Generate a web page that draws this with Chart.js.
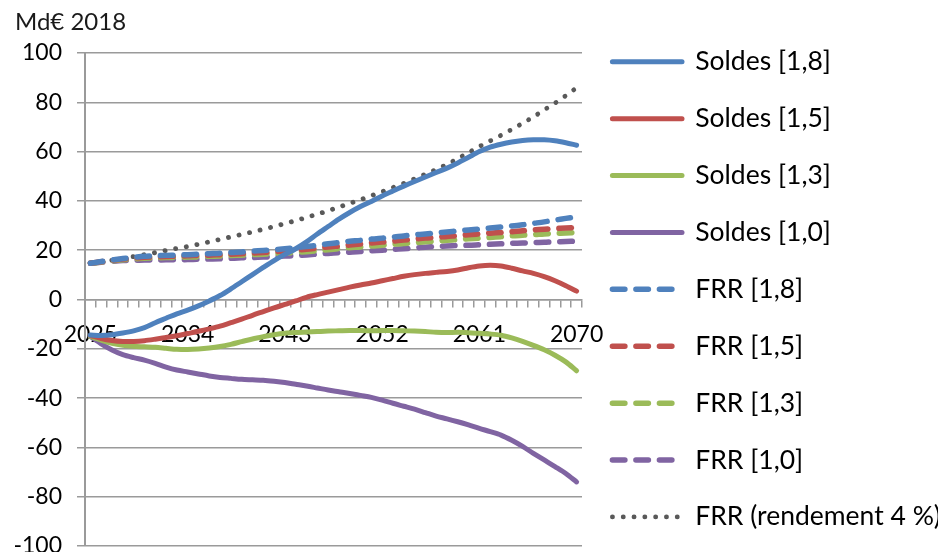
<!DOCTYPE html>
<html>
<head>
<meta charset="utf-8">
<script src="https://cdn.jsdelivr.net/npm/chart.js@4.4.1/dist/chart.umd.min.js"></script>
<style>
  body { margin: 0; background: #fff; }
  canvas { display: block; }
</style>
</head>
<body>
<canvas id="myChart" width="938" height="552"></canvas>
<script>
// années 2025 -> 2070
const years = ['2025','2026','2027','2028','2029','2030','2031','2032','2033','2034',
  '2035','2036','2037','2038','2039','2040','2041','2042','2043','2044',
  '2045','2046','2047','2048','2049','2050','2051','2052','2053','2054',
  '2055','2056','2057','2058','2059','2060','2061','2062','2063','2064',
  '2065','2066','2067','2068','2069','2070']

const soldes18 = [-14.4,-14.6,-14.3,-13.6,-12.7,-11.4,-9.4,-7.6,-5.8,-4.3,
  -2.6,-0.6,1.6,4.3,7.2,10.1,13.0,15.8,18.3,20.6,
  23.4,26.6,29.6,32.6,35.3,37.7,39.8,42.0,44.0,46.0,
  47.9,49.7,51.5,53.3,55.4,57.7,60.0,61.8,63.0,63.9,
  64.5,64.8,64.8,64.4,63.6,62.6]
const soldes15 = [-14.6,-15.8,-16.6,-17.0,-17.0,-16.7,-16.1,-15.4,-14.7,-13.8,
  -12.9,-11.9,-10.8,-9.4,-8.0,-6.4,-4.9,-3.4,-2.0,-0.6,
  0.9,2.0,3.0,4.0,5.0,5.9,6.7,7.6,8.5,9.4,
  10.1,10.6,11.0,11.4,12.0,12.9,13.6,13.9,13.6,12.7,
  11.6,10.6,9.3,7.6,5.6,3.4]
const soldes13 = [-15.0,-16.5,-17.8,-18.6,-19.0,-19.2,-19.4,-19.8,-20.2,-20.3,
  -20.1,-19.7,-19.1,-18.2,-17.1,-16.0,-15.1,-14.3,-13.7,-13.4,
  -13.2,-13.0,-12.8,-12.7,-12.6,-12.6,-12.7,-12.6,-12.6,-12.7,
  -12.8,-13.0,-13.3,-13.4,-13.3,-13.5,-13.7,-14.0,-14.5,-15.6,
  -17.0,-18.6,-20.4,-22.6,-25.3,-28.9]
const soldes10 = [-15.0,-18.0,-20.5,-22.4,-23.6,-24.6,-25.9,-27.4,-28.6,-29.4,
  -30.2,-31.0,-31.6,-32.0,-32.4,-32.6,-32.8,-33.2,-33.7,-34.4,
  -35.1,-35.9,-36.7,-37.4,-38.1,-38.9,-39.7,-40.8,-42.1,-43.3,
  -44.5,-45.9,-47.3,-48.4,-49.6,-50.9,-52.3,-53.6,-55.0,-57.1,
  -59.6,-62.4,-65.1,-67.8,-70.6,-74.0]
const frr18 = [14.7,15.4,16.0,16.6,17.1,17.5,17.7,17.9,18.0,18.2,
  18.4,18.6,18.8,19.1,19.3,19.6,19.9,20.2,20.6,21.0,
  21.5,22.0,22.6,23.1,23.6,24.0,24.5,24.9,25.3,25.8,
  26.2,26.6,27.0,27.4,27.8,28.2,28.6,29.0,29.4,29.8,
  30.3,30.9,31.5,32.2,32.9,33.6]
const frr15 = [14.7,15.3,15.9,16.4,16.8,17.1,17.3,17.4,17.6,17.7,
  17.9,18.0,18.2,18.4,18.6,18.8,19.1,19.4,19.7,20.0,
  20.4,20.8,21.3,21.7,22.1,22.5,22.9,23.3,23.7,24.1,
  24.5,24.9,25.2,25.6,25.9,26.3,26.6,26.9,27.2,27.5,
  27.9,28.2,28.5,28.8,29.0,29.3]
const frr13 = [14.7,15.2,15.7,16.1,16.5,16.7,16.9,17.0,17.1,17.2,
  17.3,17.5,17.6,17.8,18.0,18.2,18.4,18.6,18.8,19.1,
  19.4,19.8,20.2,20.6,21.0,21.3,21.7,22.0,22.4,22.7,
  23.0,23.4,23.7,24.0,24.3,24.6,24.9,25.2,25.5,25.8,
  26.1,26.3,26.6,26.8,27.0,27.2]
const frr10 = [14.7,15.1,15.5,15.8,15.9,16.0,16.0,16.1,16.1,16.2,
  16.3,16.4,16.5,16.7,16.9,17.0,17.2,17.4,17.6,17.8,
  18.1,18.4,18.7,19.0,19.2,19.5,19.8,20.0,20.3,20.6,
  20.9,21.2,21.5,21.7,21.9,22.0,22.2,22.4,22.6,22.8,
  22.9,23.1,23.2,23.4,23.5,23.7]
const frr4pct = [14.7,15.3,15.9,16.6,17.4,18.2,19.0,19.9,20.7,21.5,
  22.4,23.4,24.4,25.4,26.4,27.4,28.5,29.6,30.8,32.0,
  33.3,34.6,36.0,37.5,39.0,40.5,42.1,43.7,45.4,47.1,
  48.9,50.8,52.7,54.8,57.2,59.6,62.0,64.3,66.6,69.0,
  71.5,74.1,76.9,79.7,82.7,85.9]

const yTicks = [-100,-80,-60,-40,-20,0,20,40,60,80,100]

const BLUE = '#4f81bd', RED = '#c0504d', GREEN = '#9bbb59', PURPLE = '#8064a2', GREY = '#595959'
const GRID = '#9a9a9a'

function solid(label, data, color) {
	return {
		label: label,
		data: data,
		borderColor: color,
		backgroundColor: color,
		borderWidth: 5,
		borderCapStyle: 'round',
		pointRadius: 0,
		tension: 0.3,
	}
}
function dashed(label, data, color) {
	return {
		label: label,
		data: data,
		borderColor: color,
		backgroundColor: color,
		borderWidth: 5.5,
		borderDash: [12.5, 11],
		borderCapStyle: 'round',
		pointRadius: 0,
		tension: 0.3,
	}
}

Chart.defaults.font.family = 'Lato'
Chart.defaults.color = '#000'

const context = document.getElementById('myChart')
const data = {
	labels: years,
	datasets: [
		solid('Soldes [1,8]', soldes18, BLUE),
		solid('Soldes [1,5]', soldes15, RED),
		solid('Soldes [1,3]', soldes13, GREEN),
		solid('Soldes [1,0]', soldes10, PURPLE),
		dashed('FRR [1,8]', frr18, BLUE),
		dashed('FRR [1,5]', frr15, RED),
		dashed('FRR [1,3]', frr13, GREEN),
		dashed('FRR [1,0]', frr10, PURPLE),
		{
			label: 'FRR (rendement 4 %)',
			data: frr4pct,
			borderColor: GREY,
			backgroundColor: GREY,
			borderWidth: 4.8,
			borderDash: [0.1, 10.7],
			borderCapStyle: 'round',
			pointRadius: 0,
			tension: 0.3,
		},
	]
}

// legend samples take the dash / width of the line itself
function legendLabels(chart) {
	const items = Chart.defaults.plugins.legend.labels.generateLabels(chart)
	items.forEach(item => {
		const ds = chart.data.datasets[item.datasetIndex]
		item.lineDash = ds.borderDash || []
		item.lineWidth = ds.borderWidth
		item.strokeStyle = ds.borderColor
		item.lineCap = 'round'
	})
	return items
}

const config = {
	type: 'line',
	data: data,
	options: {
		responsive: false,
		animation: false,
		layout: { padding: { left: 15, right: 0, top: 0, bottom: -8.6 } },
		plugins: {
			title: {
				display: true,
				text: 'Md€ 2018',
				align: 'start',
				color: '#1a1a1a',
				font: { size: 24, weight: 'normal' },
				padding: { top: 7.6, bottom: 16.6 },
			},
			legend: {
				position: 'right',
				align: 'end',
				maxWidth: 356,
				labels: {
					usePointStyle: true,
					pointStyle: 'line',
					pointStyleWidth: 69.6,
					padding: 30.4,
					color: '#000',
					font: { size: 26.5 },
					generateLabels: legendLabels,
				},
			},
			tooltip: { enabled: false },
		},
		scales: {
			x: {
				position: { y: 0 },
				offset: true,
				z: 1,
				grid: {
					offset: true,
					drawOnChartArea: false,
					drawTicks: true,
					tickLength: 7,
					color: GRID,
					lineWidth: 1.5,
				},
				border: { display: true, color: GRID, width: 1.5 },
				ticks: {
					autoSkip: false,
					maxRotation: 0,
					padding: 14,
					font: { size: 23 },
					callback: function (value, index) {
						return index % 9 === 0 ? years[index] : ''
					},
				},
			},
			y: {
				min: yTicks[0],
				max: yTicks[yTicks.length - 1],
				afterFit: function (s) {
					s.width = 70
					s.paddingTop = 53
					s.paddingBottom = 6
				},
				afterBuildTicks: function (s) {
					s.ticks = yTicks.map(v => ({ value: v }))
				},
				grid: { color: GRID, lineWidth: 1.5, tickLength: 8 },
				border: { display: true, color: GRID, width: 2 },
				ticks: { padding: 15, font: { size: 23 } },
			},
		},
	},
}
const myChart = new Chart(context, config)
</script>
</body>
</html>
